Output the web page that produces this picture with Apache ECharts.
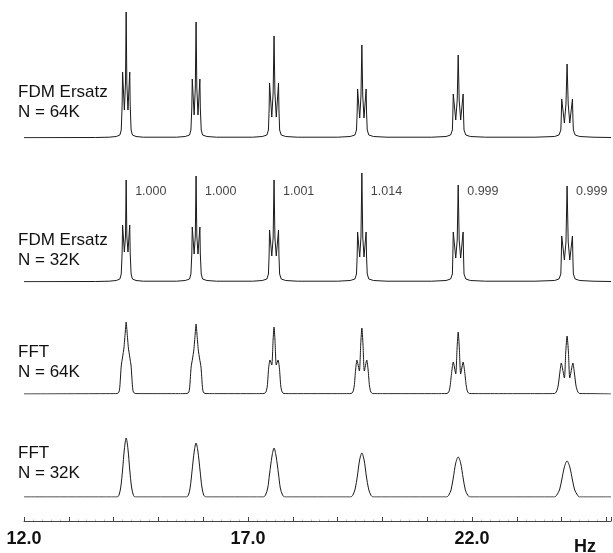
<!DOCTYPE html>
<html>
<head>
<meta charset="utf-8">
<script src="https://cdn.jsdelivr.net/npm/echarts@6/dist/echarts.min.js"></script>
<style>
  html, body { margin: 0; background: #fff; }
  #chart { width: 613px; height: 553px; }
</style>
</head>
<body>
<div id="chart"></div>
<script>
// peak centres (Hz) and the ratio labels shown on the N = 32K FDM trace
const peakHz = [14.28, 15.84, 17.58, 19.54, 21.69, 24.12];
const ratioLabels = ['1.000', '1.000', '1.001', '1.014', '0.999', '0.999'];
const tickLabels = [12, 17, 22];

// [Hz, intensity]
const fdm64 = [
  [12.0, 0.3], [13.6, 0.5], [13.9, 0.8], [14.06, 1.5], [14.14, 3], [14.17, 8], [14.19, 33], [14.20, 66],
  [14.24, 28], [14.265, 55], [14.28, 126], [14.295, 55], [14.32, 28], [14.36, 66], [14.37, 33],
  [14.39, 8], [14.42, 3], [14.50, 1.5], [14.66, 0.8],
  [15.40, 0.8], [15.60, 1.5], [15.695, 3], [15.725, 8], [15.745, 30], [15.755, 59], [15.797, 23],
  [15.823, 50], [15.84, 116], [15.857, 50], [15.883, 23], [15.925, 59], [15.935, 30], [15.955, 8],
  [15.985, 3], [16.08, 1.5], [16.3, 0.8],
  [17.10, 0.8], [17.32, 1.5], [17.42, 3], [17.455, 8], [17.47, 28], [17.48, 55], [17.53, 21],
  [17.56, 45], [17.58, 102], [17.60, 45], [17.63, 21], [17.68, 55], [17.69, 28], [17.705, 8],
  [17.74, 3], [17.84, 1.5], [18.1, 0.8],
  [19.00, 0.8], [19.28, 1.5], [19.385, 3], [19.42, 8], [19.435, 25], [19.445, 49], [19.492, 20],
  [19.52, 42], [19.54, 93], [19.56, 42], [19.588, 20], [19.635, 49], [19.645, 25], [19.66, 8],
  [19.695, 3], [19.80, 1.5], [20.1, 0.8],
  [21.10, 0.8], [21.42, 1.5], [21.52, 3], [21.56, 8], [21.57, 22], [21.58, 44], [21.635, 18],
  [21.668, 38], [21.69, 83], [21.712, 38], [21.745, 18], [21.80, 44], [21.81, 22], [21.82, 8],
  [21.86, 3], [21.96, 1.5], [22.3, 0.8],
  [23.40, 0.8], [23.84, 1.5], [23.94, 3], [23.98, 8], [23.99, 20], [24.00, 39], [24.06, 15],
  [24.095, 34], [24.12, 74], [24.145, 34], [24.18, 15], [24.24, 39], [24.25, 20], [24.26, 8],
  [24.30, 3], [24.40, 1.5], [24.70, 0.8], [25.1, 0.5]
];

const fdm32 = [
  [12.0, 0.3], [13.6, 0.5], [13.9, 0.8], [14.06, 1.5], [14.14, 3], [14.17, 8], [14.19, 29], [14.20, 57],
  [14.24, 30], [14.265, 46], [14.28, 102], [14.295, 46], [14.32, 30], [14.36, 57], [14.37, 29],
  [14.39, 8], [14.42, 3], [14.50, 1.5], [14.66, 0.8],
  [15.40, 0.8], [15.60, 1.5], [15.695, 3], [15.725, 8], [15.745, 28], [15.755, 55], [15.797, 28],
  [15.823, 46], [15.84, 106], [15.857, 46], [15.883, 28], [15.925, 55], [15.935, 28], [15.955, 8],
  [15.985, 3], [16.08, 1.5], [16.3, 0.8],
  [17.10, 0.8], [17.32, 1.5], [17.42, 3], [17.455, 8], [17.47, 26], [17.48, 52], [17.53, 26],
  [17.56, 44], [17.58, 102], [17.60, 44], [17.63, 26], [17.68, 52], [17.69, 26], [17.705, 8],
  [17.74, 3], [17.84, 1.5], [18.1, 0.8],
  [19.00, 0.8], [19.28, 1.5], [19.385, 3], [19.42, 8], [19.435, 25], [19.445, 50], [19.492, 25],
  [19.52, 45], [19.54, 109], [19.56, 45], [19.588, 25], [19.635, 50], [19.645, 25], [19.66, 8],
  [19.695, 3], [19.80, 1.5], [20.1, 0.8],
  [21.10, 0.8], [21.42, 1.5], [21.52, 3], [21.56, 8], [21.57, 25], [21.58, 50], [21.635, 24],
  [21.668, 42], [21.69, 97], [21.712, 42], [21.745, 24], [21.80, 50], [21.81, 25], [21.82, 8],
  [21.86, 3], [21.96, 1.5], [22.3, 0.8],
  [23.40, 0.8], [23.84, 1.5], [23.94, 3], [23.98, 8], [23.99, 23], [24.00, 46], [24.06, 22],
  [24.095, 40], [24.12, 96], [24.145, 40], [24.18, 22], [24.24, 46], [24.25, 23], [24.26, 8],
  [24.30, 3], [24.40, 1.5], [24.70, 0.8], [25.1, 0.5]
];

const fft64 = [
  [12.0, 0], [13.9, 0.3], [14.08, 0.5], [14.12, 2], [14.14, 8], [14.17, 28], [14.20, 37], [14.23, 46],
  [14.26, 62], [14.28, 72], [14.30, 62], [14.33, 46], [14.36, 37], [14.39, 28], [14.42, 8],
  [14.44, 2], [14.48, 0.5], [14.7, 0.3],
  [15.45, 0.3], [15.64, 0.5], [15.68, 2], [15.70, 8], [15.73, 27], [15.76, 35], [15.79, 44],
  [15.82, 60], [15.84, 70], [15.86, 60], [15.89, 44], [15.92, 35], [15.95, 27], [15.98, 8],
  [16.00, 2], [16.04, 0.5], [16.25, 0.3],
  [17.15, 0.3], [17.36, 0.5], [17.40, 2], [17.43, 8], [17.46, 26], [17.49, 34], [17.53, 29],
  [17.56, 55], [17.58, 67], [17.60, 55], [17.63, 29], [17.67, 34], [17.70, 26], [17.73, 8],
  [17.76, 2], [17.80, 0.5], [18.0, 0.3],
  [19.1, 0.3], [19.30, 0.5], [19.34, 2], [19.37, 8], [19.40, 24], [19.43, 34], [19.485, 23],
  [19.515, 50], [19.54, 66], [19.565, 50], [19.595, 23], [19.65, 34], [19.68, 24], [19.71, 8],
  [19.74, 2], [19.78, 0.5], [20.0, 0.3],
  [21.2, 0.3], [21.44, 0.5], [21.48, 2], [21.51, 8], [21.55, 24], [21.58, 32], [21.635, 20],
  [21.665, 46], [21.69, 62], [21.715, 46], [21.745, 20], [21.80, 32], [21.83, 24], [21.87, 8],
  [21.90, 2], [21.94, 0.5], [22.2, 0.3],
  [23.6, 0.3], [23.84, 0.5], [23.88, 2], [23.92, 8], [23.96, 22], [23.99, 31], [24.06, 16],
  [24.09, 42], [24.12, 58], [24.15, 42], [24.18, 16], [24.25, 31], [24.28, 22], [24.32, 8],
  [24.36, 2], [24.40, 0.5], [24.7, 0.3], [25.1, 0]
];

const fft32 = [
  [12.0, 0], [14.08, 0], [14.12, 2], [14.16, 10], [14.20, 27], [14.24, 48], [14.28, 59], [14.32, 48],
  [14.36, 27], [14.40, 10], [14.44, 2], [14.48, 0],
  [15.62, 0], [15.67, 2], [15.71, 10], [15.75, 26], [15.80, 46], [15.84, 54], [15.88, 46],
  [15.93, 26], [15.97, 10], [16.01, 2], [16.06, 0],
  [17.34, 0], [17.39, 2], [17.44, 9], [17.48, 23], [17.535, 41], [17.58, 49], [17.625, 41],
  [17.68, 23], [17.72, 9], [17.77, 2], [17.82, 0],
  [19.29, 0], [19.34, 2], [19.39, 8], [19.44, 21], [19.49, 37], [19.54, 44], [19.59, 37],
  [19.64, 21], [19.69, 8], [19.74, 2], [19.79, 0],
  [21.43, 0], [21.48, 2], [21.53, 7], [21.58, 19], [21.635, 34], [21.69, 40], [21.745, 34],
  [21.80, 19], [21.85, 7], [21.90, 2], [21.95, 0],
  [23.84, 0], [23.89, 2], [23.95, 7], [24.00, 17], [24.06, 30], [24.12, 36], [24.18, 30],
  [24.24, 17], [24.29, 7], [24.35, 2], [24.40, 0], [25.1, 0]
];

const traces = [fdm64, fdm32, fft64, fft32];
const traceMax = [130, 120, 100, 90];
const traceSmooth = [false, false, 0.2, 0.3];

const chart = echarts.init(document.getElementById('chart'));
const font = '"Liberation Sans", Arial, sans-serif';

const grids = [
  { left: 24, right: 2, top: 8, height: 130 },
  { left: 24, right: 2, top: 162, height: 120 },
  { left: 24, right: 2, top: 294, height: 100 },
  { left: 24, right: 2, top: 407, height: 90 },
];

const xAxes = grids.map((g, i) => {
  const last = i === grids.length - 1;
  return {
    type: 'value',
    gridIndex: i,
    min: 12,
    max: 25.1,
    interval: 1,
    show: last,
    offset: last ? 24 : 0,
    axisLine: { show: true, onZero: false, lineStyle: { color: '#444', width: 1 } },
    axisTick: { show: true, inside: true, length: 4, lineStyle: { color: '#444' } },
    minorTick: { show: true, splitNumber: 5, length: 1.5, lineStyle: { color: '#bbb' } },
    splitLine: { show: false },
    axisLabel: {
      margin: 9,
      fontSize: 18,
      fontWeight: 'bold',
      fontFamily: font,
      color: '#111',
      showMaxLabel: false,
      formatter: (v) => (tickLabels.includes(v) ? v.toFixed(1) : ''),
    },
  };
});

const yAxes = grids.map((g, i) => ({
  type: 'value',
  gridIndex: i,
  min: 0,
  max: traceMax[i],
  show: false,
}));

const series = traces.map((data, i) => ({
  type: 'line',
  xAxisIndex: i,
  yAxisIndex: i,
  data: data,
  symbol: 'none',
  smooth: traceSmooth[i],
  lineStyle: { color: '#1a1a1a', width: 1 },
}));

series.push({
  type: 'scatter',
  xAxisIndex: 1,
  yAxisIndex: 1,
  symbolSize: 0,
  data: peakHz.map((x) => [x, 90]),
  label: {
    show: true,
    position: 'right',
    distance: 9,
    fontSize: 12.5,
    fontFamily: font,
    color: '#111',
    formatter: (p) => ratioLabels[p.dataIndex],
  },
});

const sideText = (top, text) => ({
  type: 'text',
  left: 18,
  top: top,
  style: { text: text, font: '17px ' + font, fill: '#111', lineHeight: 20 },
});

chart.setOption({
  animation: false,
  backgroundColor: '#fff',
  grid: grids,
  xAxis: xAxes,
  yAxis: yAxes,
  series: series,
  graphic: [
    sideText(82, 'FDM Ersatz\nN = 64K'),
    sideText(230, 'FDM Ersatz\nN = 32K'),
    sideText(342, 'FFT\nN = 64K'),
    sideText(443, 'FFT\nN = 32K'),
    {
      type: 'text',
      left: 574,
      top: 538,
      style: { text: 'Hz', font: 'bold 18px ' + font, fill: '#111' },
    },
  ],
});
</script>
</body>
</html>
